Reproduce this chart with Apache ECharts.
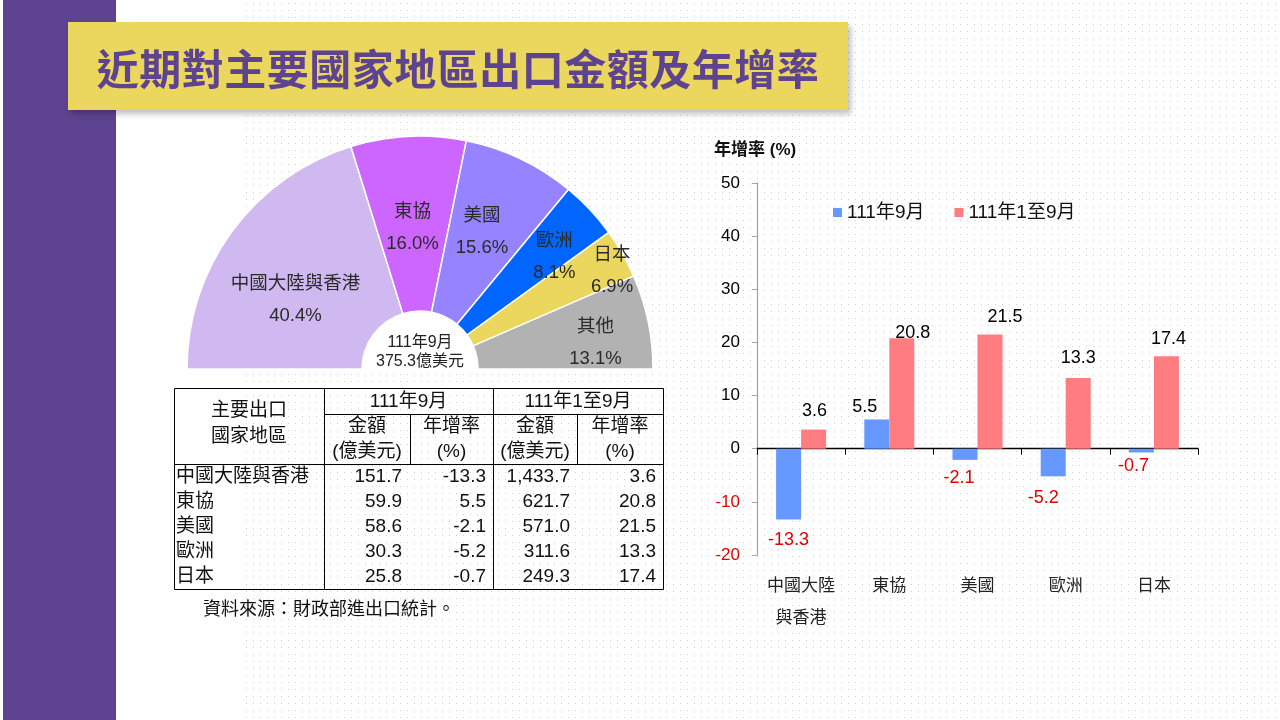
<!DOCTYPE html>
<html><head><meta charset="utf-8">
<script src="https://cdn.jsdelivr.net/npm/echarts@6/dist/echarts.min.js"></script>
<style>
body{margin:0;width:1280px;height:720px;overflow:hidden;background:#fff;}
#dots{position:absolute;left:243px;top:0;width:1037px;height:720px;background-image:radial-gradient(circle,#cfcfcf 0.55px,transparent 0.9px);background-size:7px 7px;}
#side{position:absolute;left:3px;top:0;width:113px;height:720px;background:#5E4490;}
#titlebox{position:absolute;left:68px;top:22px;width:780px;height:88px;background:#EBD65E;box-shadow:3px 4px 6px rgba(0,0,0,0.25);display:flex;align-items:center;justify-content:center;z-index:2;}
#titlebox span{font-family:'Noto Sans CJK TC',sans-serif;font-weight:bold;font-size:42px;color:#5E4490;letter-spacing:0.5px;}
#chart{position:absolute;left:0;top:0;width:1280px;height:720px;z-index:1;}
</style></head>
<body>
<div id="dots"></div>
<div id="side"></div>
<div id="titlebox"><span>近期對主要國家地區出口金額及年增率</span></div>
<div id="chart"></div>
<script>
// ---------- data ----------
const pieNames = ['中國大陸與香港', '東協', '美國', '歐洲', '日本', '其他'];
const pieValues = [151.7, 59.9, 58.6, 30.3, 25.8, 49.0];
const pieCenterText = ['111年9月', '375.3億美元'];

const tableRegions = ['中國大陸與香港', '東協', '美國', '歐洲', '日本'];
const sepAmount = [151.7, 59.9, 58.6, 30.3, 25.8];
const sepGrowth = [-13.3, 5.5, -2.1, -5.2, -0.7];
const ytdAmount = [1433.7, 621.7, 571.0, 311.6, 249.3];
const ytdGrowth = [3.6, 20.8, 21.5, 13.3, 17.4];
const tableHeadCorner = '主要出口\n國家地區';
const tableHeadPeriods = ['111年9月', '111年1至9月'];
const tableHeadCols = ['金額\n(億美元)', '年增率\n(%)'];
const sourceNote = '資料來源：財政部進出口統計。';

const barCategories = ['中國大陸\n與香港', '東協', '美國', '歐洲', '日本'];
const seriesNames = ['111年9月', '111年1至9月'];
const yAxisTitle = '年增率 (%)';
const yMin = -20, yMax = 50, yInterval = 10;

// ---------- style ----------
const FONT = "'Liberation Sans','Noto Sans CJK TC',sans-serif";
const pieColors = ['#CFB9F0', '#CC66FF', '#9683FF', '#0066FF', '#EBD65E', '#B2B2B2'];
const pieLabelShift = [[-5, 19], [0, 7], [-2, -3], [26, -11], [63, -25], [30, 4]];
const barColors = ['#6699FF', '#FF7C80'];
const NEG = '#E00000';
const sepLabelOffset = [[0, 4], [-12, 5], [-6, 1], [-10, 5], [-8, -3]];
const ytdLabelOffset = [[1, -2], [11, 12], [15, 0], [0, -3], [2, 0]];

// ---------- table graphic ----------
const colX = [174, 324, 410, 493, 577, 663];
const rowTop = 388, h1 = 414, h2 = 464, rowH = 25;
const tableBottom = h2 + rowH * tableRegions.length;
const TFS = 19;
const g = [];
function line(x1, y1, x2, y2) {
  g.push({type: 'line', silent: true, shape: {x1: x1 + 0.5, y1: y1 + 0.5, x2: x2 + 0.5, y2: y2 + 0.5}, style: {stroke: '#000', lineWidth: 1}});
}
function text(t, x, y, align, size, lh, fill) {
  g.push({type: 'text', silent: true, z: 100, x: x, y: y, style: {
    text: t, fontSize: size || TFS, fontFamily: FONT, fill: fill || '#111',
    align: align, verticalAlign: 'middle', textAlign: align, textVerticalAlign: 'middle', lineHeight: lh || 25}});
}
line(colX[0], rowTop, colX[5], rowTop);
line(colX[0], tableBottom, colX[5], tableBottom);
line(colX[0], rowTop, colX[0], tableBottom);
line(colX[5], rowTop, colX[5], tableBottom);
line(colX[1], rowTop, colX[1], tableBottom);
line(colX[3], rowTop, colX[3], tableBottom);
line(colX[1], h1, colX[5], h1);
line(colX[0], h2, colX[5], h2);
line(colX[2], h1, colX[2], h2);
line(colX[4], h1, colX[4], h2);

text(tableHeadCorner, (colX[0] + colX[1]) / 2, 424, 'center', TFS, 26);
text(tableHeadPeriods[0], (colX[1] + colX[3]) / 2, (rowTop + h1) / 2 + 1, 'center');
text(tableHeadPeriods[1], (colX[3] + colX[5]) / 2, (rowTop + h1) / 2 + 1, 'center');
for (let c = 1; c <= 4; c++) {
  text(tableHeadCols[(c - 1) % 2], (colX[c] + colX[c + 1]) / 2, (h1 + h2) / 2, 'center');
}
const fmt1 = v => v.toFixed(1);
const fmtK = v => v.toLocaleString('en-US', {minimumFractionDigits: 1, maximumFractionDigits: 1});
tableRegions.forEach((r, i) => {
  const y = h2 + rowH / 2 + i * rowH;
  text(r, colX[0] + 2, y, 'left');
  text(fmt1(sepAmount[i]), colX[2] - 8, y, 'right');
  text(fmt1(sepGrowth[i]), colX[3] - 7, y, 'right');
  text(fmtK(ytdAmount[i]), colX[4] - 7, y, 'right');
  text(fmt1(ytdGrowth[i]), colX[5] - 7, y, 'right');
});
text(sourceNote, 203, 610, 'left', 18);
text(pieCenterText.join('\n'), 420, 352, 'center', 16, 19, '#222');

// ---------- chart ----------
const chart = echarts.init(document.getElementById('chart'), null, {renderer: 'canvas'});
const lbl = (v, off) => v >= 0
  ? {show: true, position: 'top', distance: 8, color: '#000', offset: off}
  : {show: true, position: 'bottom', distance: 8, color: NEG, offset: off};

chart.setOption({
  backgroundColor: 'transparent',
  textStyle: {fontFamily: FONT},
  animation: false,
  title: {text: yAxisTitle, left: 709, top: 137, textStyle: {fontSize: 17, fontWeight: 'bold', color: '#111', fontFamily: FONT}},
  legend: {
    data: seriesNames, left: 828, top: 198, icon: 'rect', itemWidth: 9, itemHeight: 9, itemGap: 30,
    textStyle: {fontSize: 19, color: '#111', fontFamily: FONT}
  },
  grid: {left: 757, right: 82, top: 183, bottom: 165, containLabel: false},
  xAxis: [
    {type: 'category', data: barCategories, position: 'bottom',
     axisLine: {show: false, onZero: false}, axisTick: {show: false},
     axisLabel: {interval: 0, margin: 15, fontSize: 17, lineHeight: 32, color: '#222', fontFamily: FONT}},
    {type: 'category', data: barCategories, position: 'bottom',
     axisLine: {show: true, onZero: true, lineStyle: {color: '#000', width: 1.3}},
     axisTick: {show: true, interval: 0, length: 6, lineStyle: {color: '#000'}},
     axisLabel: {show: false}}
  ],
  yAxis: {
    type: 'value', min: yMin, max: yMax, interval: yInterval,
    splitLine: {show: false},
    axisLine: {show: true, lineStyle: {color: '#A6A6A6', width: 1.3}},
    axisTick: {show: true, length: 5, lineStyle: {color: '#A6A6A6'}},
    axisLabel: {margin: 17, fontSize: 17, fontFamily: FONT, color: v => (v < 0 ? NEG : '#000')}
  },
  series: [
    {
      type: 'pie', name: 'share', center: [420, 369], radius: [58, 233],
      startAngle: 180, endAngle: 360, clockwise: true,
      itemStyle: {borderColor: '#fff', borderWidth: 1.5},
      label: {
        show: true, position: 'inside', fontSize: 18.5, lineHeight: 32, color: '#2a2a2a', fontFamily: FONT,
        formatter: p => p.name + '\n' + p.percent.toFixed(1) + '%'
      },
      labelLayout: p => ({dx: pieLabelShift[p.dataIndex][0], dy: pieLabelShift[p.dataIndex][1]}),
      emphasis: {disabled: true}, silent: true,
      data: pieNames.map((n, i) => ({name: n, value: pieValues[i], itemStyle: {color: pieColors[i]}}))
    },
    {
      type: 'pie', name: 'hole', center: [420, 369], radius: [0, 57],
      startAngle: 180, endAngle: 360, silent: true, emphasis: {disabled: true},
      label: {show: false}, labelLine: {show: false}, itemStyle: {color: '#fff'},
      data: [{name: '', value: 1}]
    },
    {
      type: 'bar', name: seriesNames[0], xAxisIndex: 0, barWidth: 25, barGap: '0%',
      itemStyle: {color: barColors[0]},
      label: {fontSize: 18, fontFamily: FONT},
      data: sepGrowth.map((v, i) => ({value: v, label: lbl(v, sepLabelOffset[i])}))
    },
    {
      type: 'bar', name: seriesNames[1], xAxisIndex: 0, barWidth: 25, barGap: '0%',
      itemStyle: {color: barColors[1]},
      label: {fontSize: 18, fontFamily: FONT},
      data: ytdGrowth.map((v, i) => ({value: v, label: lbl(v, ytdLabelOffset[i])}))
    }
  ],
  graphic: g
});
</script>
</body></html>
